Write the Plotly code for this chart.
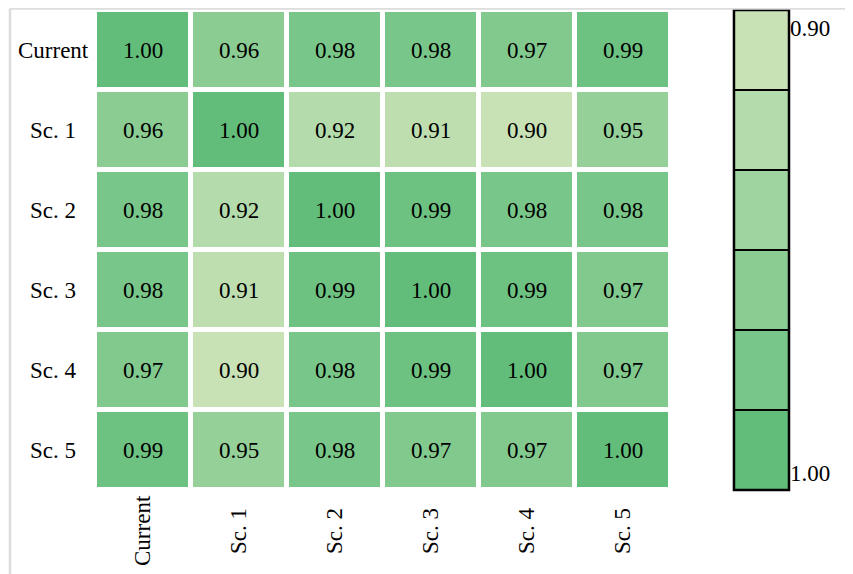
import plotly.graph_objects as go

categories = ["Current", "Sc. 1", "Sc. 2", "Sc. 3", "Sc. 4", "Sc. 5"]
values = [
    [1.00, 0.96, 0.98, 0.98, 0.97, 0.99],
    [0.96, 1.00, 0.92, 0.91, 0.90, 0.95],
    [0.98, 0.92, 1.00, 0.99, 0.98, 0.98],
    [0.98, 0.91, 0.99, 1.00, 0.99, 0.97],
    [0.97, 0.90, 0.98, 0.99, 1.00, 0.97],
    [0.99, 0.95, 0.98, 0.97, 0.97, 1.00],
]
band_values = [0.90, 0.92, 0.94, 0.96, 0.98, 1.00]
band_colors = ["#c8e1b5", "#b3dbab", "#9fd39f", "#8bcc93", "#78c689", "#62bd7b"]
cbar_ticktext = ["0.90", "1.00"]

FONT = "Liberation Serif"
FS = 23
zmin, zmax = 0.90, 1.00
colorscale = [[i / (len(band_colors) - 1), c] for i, c in enumerate(band_colors)]

fig = go.Figure()
fig.add_trace(go.Heatmap(
    z=values, x=categories, y=categories,
    zmin=zmin, zmax=zmax, colorscale=colorscale, showscale=False,
    xgap=5, ygap=5,
    texttemplate="%{z:.2f}",
    textfont=dict(family=FONT, size=FS, color="black"),
    hoverinfo="skip",
))

# discrete colour legend drawn as a one-column heatmap
fig.add_trace(go.Heatmap(
    z=[[v] for v in band_values], x=[0], y=list(range(len(band_values))),
    zmin=zmin, zmax=zmax, colorscale=colorscale, showscale=False,
    ygap=2, xaxis="x2", yaxis="y2", hoverinfo="skip",
))

n = len(band_values)
fig.update_layout(
    width=853, height=574,
    margin=dict(l=87, r=72, t=2, b=92),
    paper_bgcolor="white", plot_bgcolor="white",
    font=dict(family=FONT, size=FS, color="black"),
    xaxis=dict(domain=[0, 0.830], showticklabels=False, showgrid=False,
               zeroline=False, ticks=""),
    yaxis=dict(autorange="reversed", showticklabels=False, showgrid=False,
               zeroline=False, ticks=""),
    xaxis2=dict(domain=[0.9207, 1.0], anchor="y2", showticklabels=False,
                showgrid=False, zeroline=False, range=[-0.5, 0.5]),
    yaxis2=dict(anchor="x2", side="right", range=[n - 0.5, -0.5],
                showgrid=False, zeroline=False, ticks="",
                tickvals=[-0.5 + 0.225, n - 0.5 - 0.2125],
                ticktext=cbar_ticktext,
                tickfont=dict(family=FONT, size=FS, color="black")),
    showlegend=False,
)

# outline and separators of the colour legend
fig.add_shape(type="rect", xref="x2 domain", yref="y2 domain", x0=0, x1=1, y0=0, y1=1,
              fillcolor="black", line=dict(width=0), layer="below")
fig.add_shape(type="rect", xref="x2 domain", yref="y2 domain", x0=0, x1=1, y0=0, y1=1,
              fillcolor="rgba(0,0,0,0)", line=dict(color="black", width=2.5), layer="above")

# light frame lines at left/top
fig.add_shape(type="line", xref="paper", yref="paper", x0=-0.1225, x1=1.2, y0=1.003, y1=1.003,
              line=dict(color="#dddddd", width=2.5))
fig.add_shape(type="line", xref="paper", yref="paper", x0=-0.1225, x1=-0.1225, y0=1.003, y1=-0.2,
              line=dict(color="#dddddd", width=2.5))

# centred row and column labels
for c in categories:
    fig.add_annotation(x=-0.0605, xref="paper", y=c, yref="y", text=c, showarrow=False,
                       xanchor="center", yanchor="middle",
                       font=dict(family=FONT, size=FS, color="black"))
    fig.add_annotation(x=c, xref="x", y=-0.0854, yref="paper", text=c, showarrow=False,
                       textangle=-90, xanchor="center", yanchor="middle",
                       font=dict(family=FONT, size=FS, color="black"))

fig.write_html("out.html")
